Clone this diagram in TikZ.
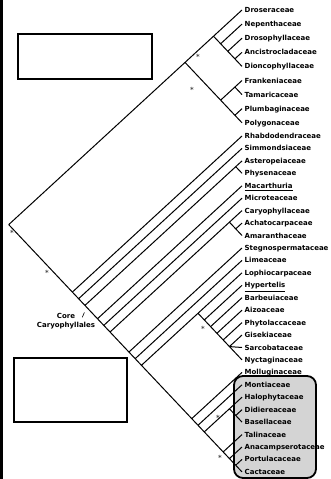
\documentclass[tikz,border=0pt]{standalone}
\usepackage{fontspec}
\setmainfont{DejaVu Sans}
\usepackage{xcolor}
\usepackage{tikz}
\usetikzlibrary{positioning,calc}
\definecolor{boxgray}{RGB}{212,212,212}
\definecolor{stargray}{RGB}{70,70,70}
\newcommand{\tipx}{242}
% clade point from its first and last tip row
\newcommand{\cladept}[3]{\coordinate (#1) at ({\tipx-(#3-#2)/1.98},{#2+0.92*(#3-#2)/1.98});}

\begin{document}
\begin{tikzpicture}[x=1pt,y=-1pt,
    branch/.style={line width=1pt},
    taxon/.style={anchor=west,inner xsep=2.5pt,inner ysep=0pt,text height=5pt,text depth=0pt,font=\fontsize{7}{8.5}\selectfont\bfseries},
    blankbox/.style={draw,line width=2pt,fill=white,inner sep=0pt},
    star/.style={text=stargray,inner sep=0pt,font=\fontsize{7}{7}\selectfont\bfseries}]
    \useasboundingbox (0,0) rectangle (330,479);
    \fill (0,0) rectangle (2.6,479);
    % Portulacineae shading
    \draw[line width=1.8pt,fill=boxgray,rounded corners=9pt] (234,376) rectangle (316,478);
    % tips
    \foreach \name/\row/\label in {drose/10/Droseraceae, nepen/24.1/Nepenthaceae, drosoph/38.2/Drosophyllaceae,
        ancis/52.3/Ancistrocladaceae, dionco/66.4/Dioncophyllaceae, frank/80.5/Frankeniaceae,
        tamar/94.6/Tamaricaceae, plumb/108.7/Plumbaginaceae, polyg/122.8/Polygonaceae,
        rhabdo/136/Rhabdodendraceae, simmond/148.4/Simmondsiaceae, astero/160.9/Asteropeiaceae,
        physen/173.3/Physenaceae, macar/185.8/{\underline{Macarthuria}}, microt/198.2/Microteaceae,
        caryo/210.6/Caryophyllaceae, achato/223.1/Achatocarpaceae, amaran/235.5/Amaranthaceae,
        stegno/248/Stegnospermataceae, limea/260.4/Limeaceae, lophio/272.8/Lophiocarpaceae,
        hyper/285.3/{\underline{Hypertelis}}, barbeu/297.7/Barbeuiaceae, aizo/310.2/Aizoaceae,
        phyto/322.6/Phytolaccaceae, giseki/335/Gisekiaceae, sarco/347.5/Sarcobataceae,
        nyctag/359.9/Nyctaginaceae, mollug/372.4/Molluginaceae, montia/384.8/Montiaceae,
        halo/397.2/Halophytaceae, didier/409.7/Didiereaceae, basell/422.1/Basellaceae,
        talina/434.6/Talinaceae, anacamp/447/Anacampserotaceae, portul/459.4/Portulacaceae,
        cacta/471.9/Cactaceae}
        \node[taxon] (\name) at (\tipx,\row) {\label};
    % clades
    \cladept{root}{10}{471.9}
    \cladept{noncore}{10}{122.8}
    \cladept{cA}{10}{66.4}
    \cladept{cA2}{24.1}{66.4}
    \cladept{cA3}{38.2}{66.4}
    \cladept{cA4}{52.3}{66.4}
    \cladept{cB}{80.5}{122.8}
    \cladept{cB1}{80.5}{94.6}
    \cladept{cB2}{108.7}{122.8}
    \cladept{core}{136}{471.9}
    \cladept{c1}{148.4}{471.9}
    \cladept{c2}{160.9}{471.9}
    \cladept{cAP}{160.9}{173.3}
    \cladept{c3}{185.8}{471.9}
    \cladept{c4}{198.2}{471.9}
    \cladept{c5}{210.6}{471.9}
    \cladept{cCA}{210.6}{235.5}
    \cladept{cAA}{223.1}{235.5}
    \cladept{c6}{248}{471.9}
    \cladept{c7}{260.4}{471.9}
    \cladept{c8}{272.8}{471.9}
    \cladept{cL}{272.8}{359.9}
    \cladept{cL2}{285.3}{359.9}
    \cladept{cL3}{297.7}{359.9}
    \cladept{cL4}{310.2}{359.9}
    \cladept{cL5}{322.6}{359.9}
    \cladept{cN}{335}{359.9}
    \cladept{cM}{372.4}{471.9}
    \cladept{cP}{384.8}{471.9}
    \cladept{cQ}{397.2}{471.9}
    \cladept{cH}{397.2}{422.1}
    \cladept{cDB}{409.7}{422.1}
    \cladept{cT}{434.6}{471.9}
    \cladept{cT2}{447}{471.9}
    \cladept{cPC}{459.4}{471.9}
    % non-core
    \draw[branch] (root) -- (noncore) (root) -- (core)
        (noncore) -- (cA) (noncore) -- (cB)
        (cA) -- (drose.west) (cA) -- (cA2)
        (cA2) -- (nepen.west) (cA2) -- (cA3)
        (cA3) -- (drosoph.west) (cA3) -- (cA4)
        (cA4) -- (ancis.west) (cA4) -- (dionco.west)
        (cB) -- (cB1) (cB) -- (cB2)
        (cB1) -- (frank.west) (cB1) -- (tamar.west)
        (cB2) -- (plumb.west) (cB2) -- (polyg.west);
    % core
    \draw[branch] (core) -- (rhabdo.west) (core) -- (c1)
        (c1) -- (simmond.west) (c1) -- (c2)
        (c2) -- (cAP) (c2) -- (c3)
        (cAP) -- (astero.west) (cAP) -- (physen.west)
        (c3) -- (macar.west) (c3) -- (c4)
        (c4) -- (microt.west) (c4) -- (c5)
        (c5) -- (cCA) (c5) -- (c6)
        (cCA) -- (caryo.west) (cCA) -- (cAA)
        (cAA) -- (achato.west) (cAA) -- (amaran.west)
        (c6) -- (stegno.west) (c6) -- (c7)
        (c7) -- (limea.west) (c7) -- (c8)
        (c8) -- (cL) (c8) -- (cM)
        (cL) -- (lophio.west) (cL) -- (cL2)
        (cL2) -- (hyper.west) (cL2) -- (cL3)
        (cL3) -- (barbeu.west) (cL3) -- (cL4)
        (cL4) -- (aizo.west) (cL4) -- (cL5)
        (cL5) -- (phyto.west) (cL5) -- (cN)
        (cN) -- (giseki.west) (cN) -- (sarco.west) (cN) -- (nyctag.west)
        (cM) -- (mollug.west) (cM) -- (cP)
        (cP) -- (montia.west) (cP) -- (cQ)
        (cQ) -- (cH) (cQ) -- (cT)
        (cH) -- (halo.west) (cH) -- (cDB)
        (cDB) -- (didier.west) (cDB) -- (basell.west)
        (cT) -- (talina.west) (cT) -- (cT2)
        (cT2) -- (anacamp.west) (cT2) -- (cPC)
        (cPC) -- (portul.west) (cPC) -- (cacta.west);
    % support marks
    \node[star] (sRoot) at (12,233) {*};
    \node[star] (sCore) at (47,273) {*};
    \node[star] (sA) at (198,57) {*};
    \node[star] (sB) at (192,90) {*};
    \node[star] (sL) at (203,329) {*};
    \node[star] (sH) at (218,418) {*};
    \node[star] (sT) at (220,458) {*};
    \node[align=center,inner sep=0pt,font=\fontsize{7}{9}\selectfont\bfseries] (corelab) at (66,321) {Core\\Caryophyllales};
    \coordinate (tickA) at (82.3,317.3);
    \coordinate (tickB) at (84.4,312.4);
    \draw[line width=0.6pt] (tickA) -- (tickB);
    % empty label boxes
    \node[blankbox,minimum width=134pt,minimum height=45pt] (blankTop) at (85,56.5) {};
    \node[blankbox,minimum width=113pt,minimum height=64pt] (blankLow) at (70,389.7) {};
\end{tikzpicture}
\end{document}
